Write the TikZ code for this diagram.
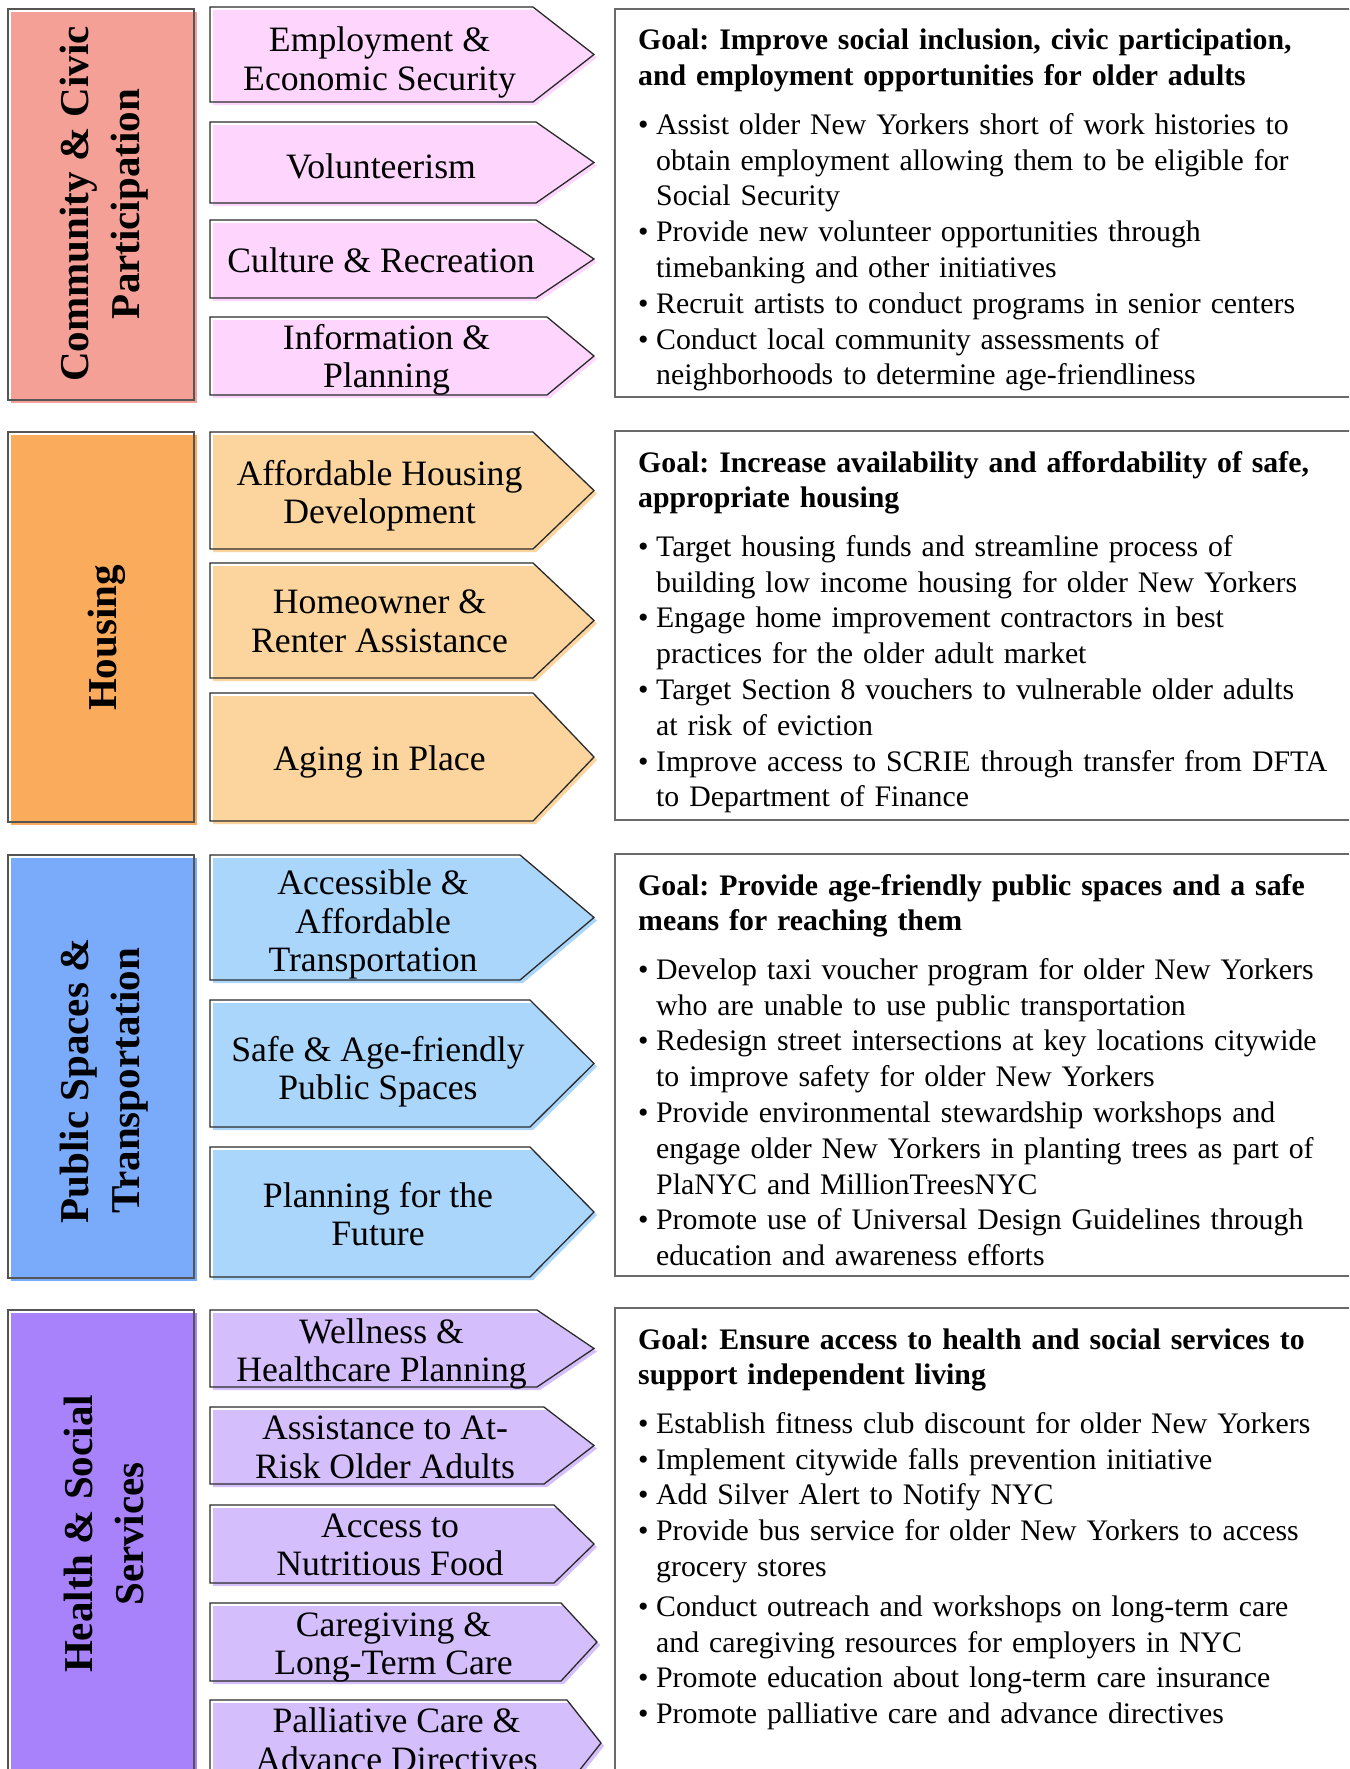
\documentclass[tikz,border=0pt]{standalone}
\usepackage{fontspec}
\setmainfont{Liberation Serif}
\usetikzlibrary{calc}
\definecolor{catA}{HTML}{F4A096}
\definecolor{arrA}{HTML}{FDD5FD}
\definecolor{catB}{HTML}{FAAC5C}
\definecolor{arrB}{HTML}{FBD59D}
\definecolor{catC}{HTML}{7AAAFA}
\definecolor{arrC}{HTML}{AAD6FC}
\definecolor{catD}{HTML}{A882FA}
\definecolor{arrD}{HTML}{D4BEFC}
\definecolor{lineDark}{HTML}{2A2A2A}
\definecolor{lineGray}{HTML}{6A6A6A}
\frenchspacing
\def\nl{\hfil\break}
\newcommand\gi[1]{\par\hangindent=18pt\hangafter=1\noindent\makebox[18pt][l]{•}#1\par}
\newcommand\parrow[8]{%
  \pgfmathsetmacro\pamid{(#2+#3)/2}%
  \pgfmathsetmacro\patx{(210+#4)/2+8}%
  \pgfmathsetmacro\paty{(#2+#3)/2+#8}%
  \fill[#6,shift={(3,3)}] (210,#2) -- (#4,#2) -- (#5,\pamid) -- (#4,#3) -- (210,#3) -- cycle;
  \draw[arrowline] (210,#2) -- (#4,#2) -- (#5,\pamid) -- (#4,#3) -- (210,#3) -- cycle;
  \node[arrowtext] (#1) at (\patx,\paty) {#7};
}
\newcommand\pcat[7]{%
  \fill[#4,shift={(3,3)}] (8,#2) rectangle (194,#3);
  \draw[boxline] (8,#2) rectangle (194,#3);
  \node[cattext] (#1) at (#7,#5) {#6};
}
\begin{document}
\begin{tikzpicture}[x=1pt,y=-1pt,
  arrowline/.style={draw=lineDark,line width=1.3pt,line join=miter},
  boxline/.style={draw=lineGray!80!black,line width=1.4pt},
  goalline/.style={draw=lineGray,line width=1.4pt},
  arrowtext/.style={align=center,inner sep=0pt,font=\fontsize{35.7}{38.5}\selectfont},
  cattext/.style={align=center,inner sep=0pt,rotate=90,font=\fontsize{41}{51}\selectfont\bfseries},
  goaltext/.style={anchor=base west,inner sep=0pt,text width=720pt,align=left,
    font=\fontsize{29.8}{35.8}\selectfont}]
\useasboundingbox (0,0) rectangle (1349,1769);
\clip (0,0) rectangle (1349,1769);
\fill[white] (0,0) rectangle (1349,1769);

% ---------- Section 1
\pcat{c1}{9}{400}{catA}{204}{Community \& Civic\\Participation}{104}
\parrow{a11}{7}{102}{533}{594}{arrA}{Employment \&\\Economic Security}{8}
\parrow{a12}{122}{203}{536}{594}{arrA}{Volunteerism}{3.4}
\parrow{a13}{220}{298}{536}{594}{arrA}{Culture \& Recreation}{1}
\parrow{a14}{317}{395}{547}{594}{arrA}{Information \&\\Planning}{4}
\draw[goalline] (615,9) rectangle (1380,397);
\node[goaltext] (g1) at (638,50) {\textbf{Goal: Improve social inclusion, civic participation,\\and employment opportunities for older adults}\par\vspace{12.7pt}
\gi{Assist older New Yorkers short of work histories to\nl obtain employment allowing them to be eligible for\nl Social Security}
\gi{Provide new volunteer opportunities through\nl timebanking and other initiatives}
\gi{Recruit artists to conduct programs in senior centers}
\gi{Conduct local community assessments of\nl neighborhoods to determine age-friendliness}};

% ---------- Section 2
\pcat{c2}{432}{822}{catB}{638}{Housing}{107}
\parrow{a21}{432}{549}{533}{594}{arrB}{Affordable Housing\\Development}{5}
\parrow{a22}{563}{678}{533}{594}{arrB}{Homeowner \&\\Renter Assistance}{1}
\parrow{a23}{693}{821}{533}{594}{arrB}{Aging in Place}{4.5}
\draw[goalline] (615,431) rectangle (1380,820);
\node[goaltext] (g2) at (638,472) {\textbf{Goal: Increase availability and affordability of safe,\\appropriate housing}\par\vspace{12.7pt}
\gi{Target housing funds and streamline process of\nl building low income housing for older New Yorkers}
\gi{Engage home improvement contractors in best\nl practices for the older adult market}
\gi{Target Section 8 vouchers to vulnerable older adults\nl at risk of eviction}
\gi{Improve access to SCRIE through transfer from DFTA\nl to Department of Finance}};

% ---------- Section 3
\pcat{c3}{855}{1278}{catC}{1081}{Public Spaces \&\\Transportation}{104}
\parrow{a31}{855}{980}{520}{594}{arrC}{Accessible \&\\Affordable\\Transportation}{7}
\parrow{a32}{1000}{1127}{530}{594}{arrC}{Safe \& Age-friendly\\Public Spaces}{8}
\parrow{a33}{1147}{1277}{530}{594}{arrC}{Planning for the\\Future}{2}
\draw[goalline] (615,854) rectangle (1380,1276);
\node[goaltext] (g3) at (638,895) {\textbf{Goal: Provide age-friendly public spaces and a safe\\means for reaching them}\par\vspace{12.7pt}
\gi{Develop taxi voucher program for older New Yorkers\nl who are unable to use public transportation}
\gi{Redesign street intersections at key locations citywide\nl to improve safety for older New Yorkers}
\gi{Provide environmental stewardship workshops and\nl engage older New Yorkers in planting trees as part of\nl PlaNYC and MillionTreesNYC}
\gi{Promote use of Universal Design Guidelines through\nl education and awareness efforts}};

% ---------- Section 4
\pcat{c4}{1310}{1800}{catD}{1534}{Health \& Social\\Services}{104}
\parrow{a41}{1310}{1387}{537}{594}{arrD}{Wellness \&\\Healthcare Planning}{5.6}
\parrow{a42}{1407}{1484}{544}{594}{arrD}{Assistance to At-\\Risk Older Adults}{2}
\parrow{a43}{1505}{1583}{554}{594}{arrD}{Access to\\Nutritious Food}{1}
\parrow{a44}{1603}{1681}{561}{597}{arrD}{Caregiving \&\\Long-Term Care}{5.6}
\parrow{a45}{1700}{1786}{567}{601}{arrD}{Palliative Care \&\\Advance Directives}{-3}
\draw[goalline] (615,1308) rectangle (1380,1800);
\node[goaltext] (g4) at (638,1349) {\textbf{Goal: Ensure access to health and social services to\\support independent living}\par\vspace{12.7pt}
\gi{Establish fitness club discount for older New Yorkers}
\gi{Implement citywide falls prevention initiative}
\gi{Add Silver Alert to Notify NYC}
\gi{Provide bus service for older New Yorkers to access\nl grocery stores}
\vspace{4pt}
\gi{Conduct outreach and workshops on long-term care\nl and caregiving resources for employers in NYC}
\gi{Promote education about long-term care insurance}
\gi{Promote palliative care and advance directives}};
\end{tikzpicture}
\end{document}
